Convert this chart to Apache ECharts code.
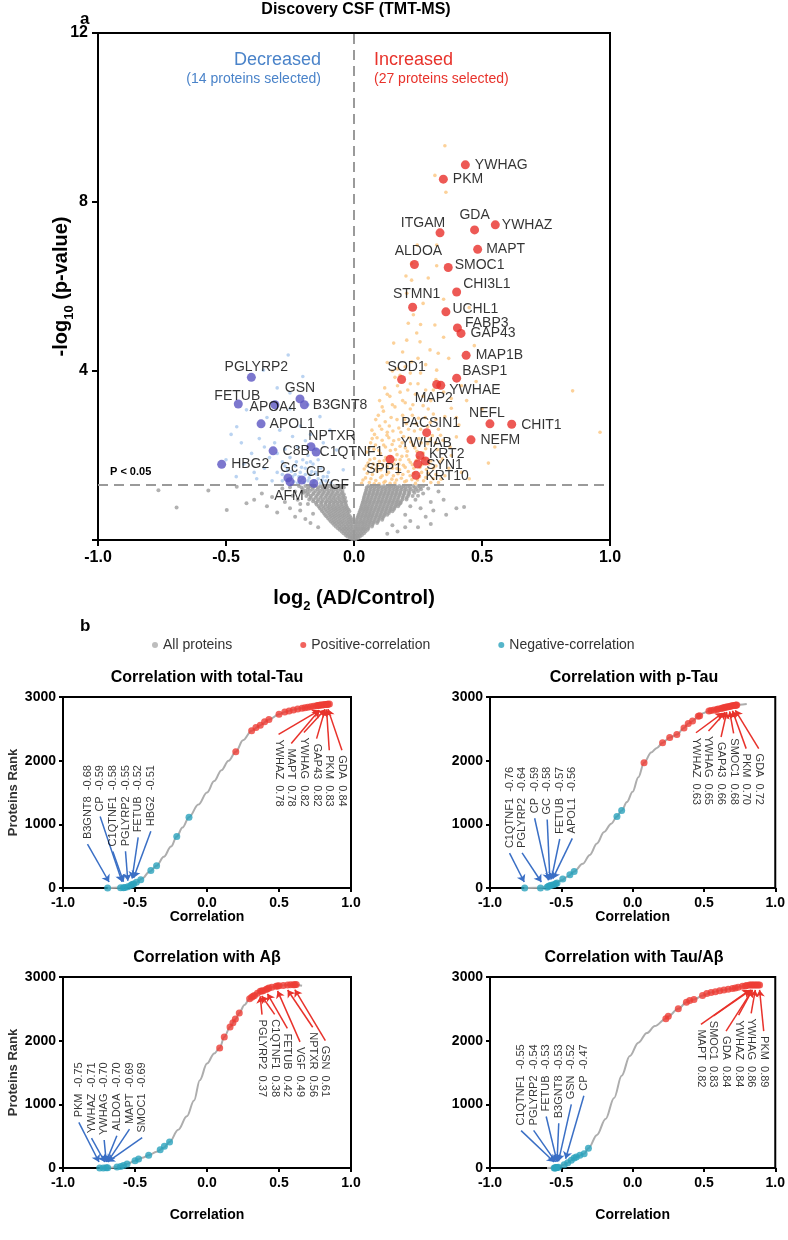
<!DOCTYPE html>
<html><head><meta charset="utf-8">
<script src="https://cdn.jsdelivr.net/npm/echarts@6/dist/echarts.min.js"></script>
<style>html,body{margin:0;padding:0;background:#fff}#c{width:788px;height:1240px}</style>
</head><body><div id="c"></div>
<script>
// ================= DATA: panel a (volcano) =================
const upNames = ['YWHAG','PKM','ITGAM','GDA','YWHAZ','MAPT','ALDOA','SMOC1','CHI3L1','STMN1','UCHL1','FABP3','GAP43','MAP1B','BASP1','SOD1','YWHAE','MAP2','NEFL','CHIT1','PACSIN1','NEFM','YWHAB','KRT2','SYN1','KRT10','SPP1'];
const upX = [0.435,0.349,0.336,0.471,0.552,0.483,0.236,0.368,0.401,0.229,0.359,0.404,0.418,0.438,0.401,0.186,0.339,0.323,0.531,0.616,0.284,0.457,0.258,0.279,0.249,0.242,0.141];
const upY = [8.88,8.54,7.27,7.34,7.46,6.88,6.52,6.45,5.87,5.51,5.40,5.02,4.89,4.37,3.83,3.80,3.66,3.68,2.75,2.74,2.54,2.37,2.00,1.87,1.80,1.53,1.91];
const downNames = ['PGLYRP2','FETUB','APOA4','GSN','B3GNT8','APOL1','NPTXR','C8B','C1QTNF1','HBG2','Gc','AFM','CP','VGF'];
const downX = [-0.401,-0.452,-0.309,-0.211,-0.194,-0.363,-0.168,-0.316,-0.148,-0.517,-0.258,-0.250,-0.204,-0.157];
const downY = [3.85,3.22,3.20,3.34,3.20,2.75,2.21,2.11,2.08,1.79,1.47,1.38,1.42,1.34];

// non-significant proteins (grey), rows: [-log10 p, [log2 FC ...]]
const grayRows = [
 [1.28,[-0.215,-0.19,-0.17,-0.152,-0.131,-0.114,-0.097,-0.079,-0.062,-0.046,0.056,0.071,0.087,0.101,0.117,0.133,0.146,0.162,0.177,0.193,0.211,0.232,0.251,0.27]],
 [1.24,[-0.205,-0.178,-0.16,-0.14,-0.122,-0.105,-0.088,-0.07,-0.054,-0.04,0.05,0.064,0.079,0.094,0.109,0.124,0.139,0.154,0.169,0.185,0.2,0.218,0.238,0.258]],
 [1.2,[-0.2,-0.181,-0.163,-0.142,-0.124,-0.106,-0.088,-0.071,-0.052,0.049,0.066,0.081,0.096,0.112,0.126,0.141,0.157,0.171,0.187,0.203,0.222,0.243,0.262]],
 [1.16,[-0.19,-0.172,-0.15,-0.132,-0.115,-0.097,-0.08,-0.062,-0.045,0.047,0.062,0.077,0.092,0.107,0.122,0.137,0.152,0.167,0.182,0.198,0.214,0.232,0.25]],
 [1.12,[-0.196,-0.183,-0.157,-0.137,-0.119,-0.101,-0.084,-0.066,-0.047,0.045,0.061,0.076,0.091,0.106,0.121,0.136,0.151,0.166,0.181,0.198,0.216,0.236]],
 [1.08,[-0.178,-0.16,-0.141,-0.123,-0.105,-0.088,-0.071,-0.054,-0.04,0.043,0.058,0.073,0.088,0.103,0.118,0.133,0.148,0.163,0.178,0.195,0.213]],
 [1.04,[-0.186,-0.168,-0.146,-0.127,-0.109,-0.092,-0.076,-0.059,-0.042,0.041,0.056,0.071,0.086,0.101,0.116,0.131,0.146,0.161,0.176,0.192,0.211,0.229]],
 [1.0,[-0.17,-0.15,-0.131,-0.113,-0.096,-0.08,-0.063,-0.047,-0.035,0.039,0.054,0.068,0.083,0.098,0.113,0.128,0.143,0.158,0.173,0.19,0.206]],
 [0.96,[-0.175,-0.158,-0.139,-0.121,-0.102,-0.086,-0.071,-0.055,-0.039,0.038,0.052,0.066,0.081,0.096,0.111,0.126,0.141,0.156,0.171,0.189,0.205]],
 [0.92,[-0.16,-0.142,-0.125,-0.107,-0.09,-0.074,-0.058,-0.043,-0.032,0.036,0.05,0.064,0.079,0.094,0.108,0.123,0.138,0.153,0.168,0.183]],
 [0.88,[-0.149,-0.129,-0.112,-0.096,-0.081,-0.066,-0.05,-0.035,0.034,0.047,0.061,0.076,0.091,0.106,0.121,0.136,0.151,0.166,0.182]],
 [0.84,[-0.146,-0.128,-0.111,-0.095,-0.079,-0.063,-0.048,-0.032,0.032,0.045,0.059,0.073,0.088,0.103,0.118,0.133,0.148,0.163,0.176]],
 [0.8,[-0.138,-0.121,-0.104,-0.089,-0.074,-0.059,-0.044,-0.03,0.03,0.044,0.057,0.071,0.086,0.101,0.116,0.131,0.146,0.161,0.172]],
 [0.76,[-0.134,-0.117,-0.1,-0.085,-0.07,-0.055,-0.04,-0.027,0.028,0.041,0.054,0.068,0.083,0.098,0.113,0.128,0.143,0.158]],
 [0.72,[-0.128,-0.111,-0.095,-0.08,-0.066,-0.051,-0.036,-0.022,0.026,0.039,0.052,0.066,0.081,0.096,0.111,0.126,0.141,0.155]],
 [0.68,[-0.124,-0.106,-0.09,-0.075,-0.061,-0.046,-0.031,-0.018,0.023,0.037,0.05,0.064,0.078,0.093,0.108,0.123,0.138,0.15]],
 [0.64,[-0.118,-0.101,-0.086,-0.071,-0.056,-0.041,-0.026,0.021,0.035,0.049,0.062,0.076,0.091,0.106,0.121,0.136]],
 [0.6,[-0.113,-0.096,-0.081,-0.066,-0.051,-0.036,-0.021,0.018,0.032,0.046,0.06,0.073,0.088,0.103,0.118,0.13]],
 [0.56,[-0.108,-0.091,-0.076,-0.061,-0.046,-0.031,-0.016,0.016,0.03,0.044,0.057,0.071,0.086,0.101,0.116]],
 [0.52,[-0.102,-0.086,-0.071,-0.056,-0.041,-0.026,-0.012,0.013,0.027,0.041,0.055,0.068,0.083,0.098,0.112]],
 [0.48,[-0.096,-0.081,-0.066,-0.051,-0.036,-0.021,-0.009,0.011,0.025,0.039,0.052,0.066,0.081,0.096,0.11]],
 [0.44,[-0.09,-0.075,-0.06,-0.046,-0.031,-0.017,-0.006,0.01,0.023,0.036,0.05,0.063,0.078,0.093]],
 [0.4,[-0.084,-0.07,-0.055,-0.041,-0.026,-0.012,0.009,0.021,0.034,0.047,0.061,0.075,0.09]],
 [0.36,[-0.078,-0.063,-0.049,-0.035,-0.021,-0.008,0.007,0.02,0.033,0.045,0.058,0.072]],
 [0.32,[-0.071,-0.056,-0.042,-0.029,-0.016,-0.005,0.006,0.018,0.031,0.043,0.056,0.07]],
 [0.28,[-0.063,-0.05,-0.037,-0.024,-0.011,0.005,0.017,0.03,0.042,0.055]],
 [0.24,[-0.056,-0.043,-0.031,-0.019,-0.007,0.006,0.017,0.029,0.041,0.053]],
 [0.2,[-0.048,-0.036,-0.024,-0.012,-0.002,0.01,0.022,0.034,0.045]],
 [0.16,[-0.041,-0.029,-0.017,-0.006,0.005,0.016,0.027,0.039]],
 [0.12,[-0.033,-0.022,-0.011,0.0,0.011,0.021,0.031]],
 [0.08,[-0.026,-0.015,-0.005,0.004,0.013,0.023]],
 [0.05,[-0.016,-0.006,0.006,0.016]],
 [0.02,[-0.007,0.006]]
];
const grayScatter = [[-0.764,1.18],[-0.693,0.77],[-0.569,1.17],[-0.497,0.71],[-0.458,1.26],[-0.42,0.87],[-0.39,0.95],[-0.36,1.1],[-0.34,0.8],[-0.32,1.02],[-0.3,0.65],[-0.28,1.22],[-0.27,0.9],[-0.25,0.75],[-0.24,1.05],[-0.23,0.55],[-0.22,0.95],[-0.21,0.7],[-0.2,1.15],[-0.19,0.5],[-0.18,0.85],[-0.17,0.4],[-0.16,0.62],[-0.14,0.3],[-0.25,1.25],[-0.23,1.15],[-0.21,0.85],
 [0.18,0.87],[0.2,0.6],[0.22,0.45],[0.24,0.95],[0.26,0.75],[0.27,1.1],[0.28,0.55],[0.3,0.9],[0.31,0.7],[0.33,1.15],[0.35,0.95],[0.36,0.6],[0.4,0.75],[0.43,0.78],[0.3,0.38],[0.25,0.3],[0.2,0.3],[0.17,0.2],[0.13,0.15],[0.15,0.35],[0.29,1.22],[0.25,1.05],[0.22,0.8]];
// significantly increased, not selected (orange)
const orangePts = [
 [0.03,1.34],[0.045,1.47],[0.06,1.36],[0.072,1.55],[0.085,1.41],[0.098,1.33],[0.11,1.52],[0.122,1.39],[0.135,1.6],[0.148,1.44],[0.16,1.35],[0.172,1.57],[0.185,1.46],[0.198,1.38],[0.212,1.62],[0.226,1.43],[0.24,1.34],[0.256,1.5],[0.272,1.4],[0.29,1.58],[0.31,1.45],[0.33,1.36],[0.355,1.52],
 [0.035,1.42],[0.052,1.58],[0.066,1.45],[0.079,1.33],[0.091,1.62],[0.104,1.48],[0.117,1.36],[0.128,1.55],[0.141,1.34],[0.154,1.52],[0.166,1.42],[0.178,1.66],[0.191,1.55],[0.205,1.4],[0.219,1.52],[0.233,1.58],[0.248,1.42],[0.264,1.6],[0.28,1.48],[0.3,1.36],[0.32,1.55],[0.34,1.44],
 [0.04,1.68],[0.055,1.82],[0.068,1.71],[0.08,1.93],[0.092,1.76],[0.105,1.66],[0.118,1.88],[0.13,1.73],[0.143,1.97],[0.156,1.8],[0.168,1.69],[0.18,1.9],[0.193,1.77],[0.206,1.99],[0.22,1.84],[0.234,1.7],[0.25,1.95],[0.266,1.78],[0.283,1.67],[0.3,1.87],[0.32,1.75],[0.345,1.92],[0.37,1.7],
 [0.048,1.75],[0.062,1.9],[0.075,1.8],[0.087,1.68],[0.099,1.86],[0.112,1.78],[0.124,1.95],[0.137,1.82],[0.15,1.7],[0.162,1.9],[0.175,1.8],[0.187,1.98],[0.2,1.72],[0.214,1.9],[0.228,1.78],[0.243,1.88],[0.258,1.72],[0.275,1.92],[0.292,1.8],[0.31,1.7],[0.335,1.85],
 [0.05,2.08],[0.065,2.3],[0.078,2.15],[0.09,2.42],[0.103,2.05],[0.116,2.25],[0.129,2.48],[0.142,2.12],[0.155,2.35],[0.168,2.02],[0.18,2.22],[0.194,2.45],[0.208,2.1],[0.222,2.32],[0.238,2.18],[0.254,2.4],[0.27,2.06],[0.288,2.28],[0.306,2.47],[0.326,2.14],[0.348,2.36],[0.375,2.2],[0.4,2.44],
 [0.058,2.18],[0.071,2.4],[0.084,2.25],[0.097,2.12],[0.11,2.36],[0.123,2.2],[0.136,2.42],[0.149,2.26],[0.162,2.14],[0.175,2.38],[0.188,2.3],[0.201,2.18],[0.215,2.42],[0.23,2.25],[0.246,2.1],[0.262,2.3],[0.28,2.16],[0.298,2.38],[0.318,2.3],[0.338,2.48],
 [0.07,2.6],[0.085,2.85],[0.1,2.7],[0.115,3.05],[0.13,2.55],[0.145,2.9],[0.16,3.15],[0.175,2.65],[0.19,2.95],[0.205,2.75],[0.22,3.1],[0.236,2.58],[0.252,2.88],[0.27,3.18],[0.288,2.68],[0.31,2.98],[0.33,2.62],[0.355,2.92],[0.38,3.12],[0.41,2.72],
 [0.08,2.5],[0.095,2.95],[0.108,2.62],[0.122,2.8],[0.138,2.7],[0.152,2.58],[0.168,2.85],[0.183,2.55],[0.198,2.85],[0.213,2.62],[0.228,2.95],[0.244,2.75],[0.26,2.62],[0.278,2.9],[0.298,2.78],[0.32,2.85],
 [0.1,3.3],[0.12,3.6],[0.14,3.4],[0.16,3.85],[0.18,3.5],[0.2,3.25],[0.22,3.7],[0.24,3.45],[0.26,3.95],[0.28,3.55],[0.3,3.3],[0.32,3.8],[0.35,3.5],[0.38,3.35],[0.42,3.65],
 [0.11,3.15],[0.13,3.45],[0.15,3.2],[0.17,3.65],[0.19,3.3],[0.21,3.55],[0.23,3.2],[0.25,3.7],[0.27,3.4],[0.29,3.1],[0.31,3.55],[0.15,4.0],[0.2,4.1],[0.25,4.3],[0.18,3.9],[0.22,3.95],
 [0.13,4.2],[0.155,4.66],[0.17,4.05],[0.19,4.45],[0.206,4.73],[0.225,4.22],[0.245,4.9],[0.258,4.69],[0.28,4.15],[0.297,4.5],[0.329,4.42],[0.323,4.02],[0.35,4.8],[0.37,4.3],
 [0.212,5.13],[0.232,5.33],[0.316,5.09],[0.206,5.84],[0.225,6.15],[0.203,6.25],[0.225,6.55],[0.323,6.49],[0.247,6.98],[0.323,6.98],[0.27,5.6],[0.29,6.2],[0.35,5.7],[0.26,5.1],
 [0.961,2.55],[0.854,3.53],[0.525,1.82],[0.477,3.75],[0.355,9.33],[0.316,8.63],[0.359,8.23],[0.55,2.2],[0.5,3.1],[0.45,5.5],[0.47,4.6],[0.42,1.6],[0.45,1.45],[0.38,2.0],[0.4,2.9],[0.44,3.3]];
// significantly decreased, not selected (light blue)
const bluePts = [[-0.46,1.5],[-0.43,1.8],[-0.4,2.05],[-0.38,1.45],[-0.37,2.4],[-0.35,1.7],[-0.34,2.9],[-0.33,1.95],[-0.32,1.4],[-0.31,2.3],[-0.3,1.6],[-0.29,2.6],[-0.28,1.85],[-0.28,1.4],[-0.27,2.15],[-0.26,1.65],[-0.25,3.1],[-0.25,1.95],[-0.24,2.45],[-0.24,1.5],[-0.23,1.75],[-0.22,2.2],[-0.22,1.35],[-0.21,1.6],[-0.21,2.7],[-0.2,1.9],[-0.2,1.45],[-0.19,2.35],[-0.19,1.7],[-0.18,1.4],[-0.18,2.0],[-0.17,1.55],[-0.17,2.5],[-0.16,1.8],[-0.16,1.35],[-0.15,2.15],[-0.15,1.6],[-0.14,1.45],[-0.14,1.9],[-0.13,1.35],[-0.13,1.7],[-0.12,2.3],[-0.12,1.5],[-0.11,1.4],[-0.1,1.6],[-0.09,1.35],
 [-0.257,4.38],[-0.354,4.02],[-0.2,3.87],[-0.25,3.48],[-0.42,3.08],[-0.458,2.68],[-0.133,2.92],[-0.094,2.6],[-0.068,2.13],[-0.042,1.66],[-0.3,3.6],[-0.18,3.2],[-0.28,1.55],[-0.26,1.42],[-0.23,1.55],[-0.21,1.4],[-0.19,1.55],[-0.27,1.75],[-0.17,1.85],[-0.155,1.4],
 [-0.235,1.38],[-0.215,1.5],[-0.195,1.36],[-0.175,1.47],[-0.165,1.62],[-0.145,1.55],[-0.125,1.42],[-0.105,1.5],[-0.245,1.62],[-0.225,1.85],[-0.205,1.72],[-0.185,1.83],[-0.3,2.05],[-0.35,2.2],[-0.39,1.6],[-0.44,2.3],[-0.5,1.9],[-0.48,2.5]];

// ================= DATA: panel b (rank plots) =================
const panelTitles = ['Correlation with total-Tau','Correlation with p-Tau','Correlation with A\u03b2','Correlation with Tau/A\u03b2'];

const tTauCurve = [[-0.69,0],[-0.6,8],[-0.55,30],[-0.5,75],[-0.45,150],[-0.4,255],[-0.35,350],[-0.3,490],[-0.25,650],[-0.21,809],[-0.17,950],[-0.125,1111],[-0.06,1310],[0,1500],[0.05,1680],[0.1,1850],[0.15,2000],[0.2,2139],[0.25,2320],[0.31,2468],[0.37,2557],[0.43,2645],[0.5,2728],[0.55,2770],[0.6,2800],[0.65,2822],[0.7,2843],[0.75,2860],[0.8,2875],[0.85,2890]];
const tTauPos = [[0.2,2139],[0.31,2468],[0.34,2520],[0.37,2557],[0.4,2610],[0.43,2645],[0.5,2728],[0.54,2765],[0.57,2780],[0.6,2795],[0.63,2810],[0.66,2822],[0.68,2830],[0.7,2840],[0.72,2848],[0.74,2855],[0.76,2862],[0.77,2866],[0.78,2870],[0.79,2873],[0.8,2876],[0.81,2878],[0.82,2881],[0.83,2884],[0.835,2886],[0.84,2888],[0.85,2890]];
const tTauNeg = [[-0.69,0],[-0.6,2],[-0.58,5],[-0.57,8],[-0.55,20],[-0.53,40],[-0.52,55],[-0.51,63],[-0.49,89],[-0.46,130],[-0.39,276],[-0.35,350],[-0.21,809],[-0.125,1111]];
const tTauNegNames = ['B3GNT8','CP','C1QTNF1','PGLYRP2','FETUB','HBG2'];
const tTauNegR = [-0.68,-0.59,-0.58,-0.55,-0.52,-0.51];
const tTauPosNames = ['YWHAZ','MAPT','YWHAG','GAP43','PKM','GDA'];
const tTauPosR = [0.78,0.78,0.82,0.82,0.83,0.84];

const pTauCurve = [[-0.76,0],[-0.65,3],[-0.6,20],[-0.55,60],[-0.5,120],[-0.45,190],[-0.41,261],[-0.35,380],[-0.3,520],[-0.25,700],[-0.2,880],[-0.15,1010],[-0.11,1122],[-0.077,1216],[-0.04,1350],[0,1510],[0.04,1740],[0.08,1967],[0.13,2130],[0.17,2200],[0.21,2280],[0.26,2363],[0.31,2410],[0.36,2515],[0.39,2583],[0.42,2624],[0.46,2697],[0.5,2750],[0.535,2780],[0.6,2820],[0.65,2845],[0.7,2866],[0.75,2880],[0.8,2890]];
const pTauPos = [[0.08,1967],[0.21,2280],[0.26,2363],[0.31,2410],[0.36,2515],[0.39,2583],[0.42,2624],[0.46,2697],[0.47,2705],[0.535,2780],[0.55,2788],[0.57,2795],[0.59,2805],[0.6,2812],[0.62,2820],[0.63,2826],[0.64,2832],[0.65,2838],[0.66,2843],[0.67,2848],[0.68,2852],[0.69,2858],[0.7,2862],[0.71,2866],[0.72,2870],[0.725,2872],[0.73,2875]];
const pTauNeg = [[-0.757,0],[-0.646,0],[-0.6,10],[-0.59,26],[-0.58,35],[-0.57,42],[-0.555,52],[-0.54,68],[-0.53,80],[-0.49,141],[-0.44,209],[-0.41,261],[-0.11,1122],[-0.077,1216]];
const pTauNegNames = ['C1QTNF1','PGLYRP2','CP','GC','FETUB','APOL1'];
const pTauNegR = [-0.76,-0.64,-0.59,-0.58,-0.57,-0.56];
const pTauPosNames = ['YWHAZ','YWHAG','GAP43','SMOC1','PKM','GDA'];
const pTauPosR = [0.63,0.65,0.66,0.68,0.70,0.72];

const abCurve = [[-0.745,0],[-0.7,2],[-0.65,8],[-0.6,30],[-0.555,63],[-0.5,115],[-0.45,160],[-0.405,199],[-0.35,255],[-0.3,320],[-0.26,408],[-0.2,600],[-0.14,811],[-0.09,1060],[-0.05,1380],[0,1640],[0.05,1800],[0.088,1885],[0.12,2058],[0.16,2215],[0.2,2340],[0.224,2435],[0.26,2560],[0.296,2660],[0.32,2696],[0.37,2775],[0.43,2827],[0.5,2864],[0.56,2874],[0.61,2880],[0.66,2862]];
const abPos = [[0.088,1885],[0.12,2058],[0.16,2215],[0.18,2280],[0.197,2340],[0.224,2435],[0.296,2660],[0.31,2680],[0.32,2696],[0.33,2710],[0.35,2745],[0.37,2775],[0.38,2780],[0.39,2785],[0.41,2805],[0.42,2815],[0.43,2827],[0.45,2840],[0.48,2855],[0.49,2860],[0.5,2864],[0.53,2868],[0.56,2874],[0.58,2877],[0.6,2879],[0.61,2880],[0.62,2881]];
const abNeg = [[-0.745,0],[-0.72,0],[-0.7,2],[-0.69,3],[-0.625,15],[-0.6,25],[-0.58,40],[-0.555,63],[-0.5,115],[-0.475,141],[-0.405,199],[-0.325,288],[-0.296,340],[-0.26,408]];
const abNegNames = ['PKM','YWHAZ','YWHAG','ALDOA','MAPT','SMOC1'];
const abNegR = [-0.75,-0.71,-0.70,-0.70,-0.69,-0.69];
const abPosNames = ['PGLYRP2','C1QTNF1','FETUB','VGF','NPTXR','GSN'];
const abPosR = [0.37,0.38,0.42,0.49,0.56,0.61];

const taCurve = [[-0.6,0],[-0.55,5],[-0.53,15],[-0.48,52],[-0.455,83],[-0.43,120],[-0.41,156],[-0.395,172],[-0.34,224],[-0.31,312],[-0.25,520],[-0.19,770],[-0.13,1100],[-0.077,1448],[-0.02,1760],[0.04,1969],[0.1,2120],[0.156,2229],[0.233,2344],[0.25,2385],[0.32,2500],[0.377,2604],[0.43,2646],[0.49,2708],[0.55,2755],[0.62,2792],[0.7,2818],[0.77,2854],[0.82,2873],[0.89,2876]];
const taPos = [[0.233,2344],[0.25,2385],[0.32,2500],[0.377,2604],[0.4,2630],[0.43,2646],[0.49,2708],[0.52,2740],[0.55,2755],[0.58,2770],[0.61,2785],[0.64,2795],[0.67,2808],[0.7,2818],[0.72,2828],[0.74,2840],[0.77,2854],[0.79,2860],[0.8,2865],[0.82,2873],[0.83,2876],[0.84,2876],[0.85,2876],[0.86,2876],[0.87,2876],[0.88,2876],[0.89,2876]];
const taNeg = [[-0.55,0],[-0.545,0],[-0.54,2],[-0.535,4],[-0.53,6],[-0.52,10],[-0.48,52],[-0.455,83],[-0.43,120],[-0.41,156],[-0.395,172],[-0.37,200],[-0.34,224],[-0.31,312]];
const taNegNames = ['C1QTNF1','PGLYRP2','FETUB','B3GNT8','GSN','CP'];
const taNegR = [-0.55,-0.54,-0.53,-0.53,-0.52,-0.47];
const taPosNames = ['MAPT','SMOC1','GDA','YWHAZ','YWHAG','PKM'];
const taPosR = [0.82,0.83,0.84,0.84,0.86,0.89];

// ================= LAYOUT =================
const FONT = '"Liberation Sans", Arial, Helvetica, sans-serif';
const grids = [
  {left:98, top:33, width:512, height:507},
  {left:63, top:697, width:288, height:191},
  {left:490, top:697, width:288, height:191},
  {left:63, top:977, width:288, height:191},
  {left:490, top:977, width:288, height:191}
];
// label placement: r = right of dot [gap, dy]; c = centred offset [dx, dy]
const upLay = {YWHAG:['r',5,0],PKM:['r',5,0],ITGAM:['c',-17,-10],GDA:['c',0,-15],YWHAZ:['r',2,0],MAPT:['r',4,0],ALDOA:['c',4,-13],SMOC1:['r',2,-2],CHI3L1:['r',2,-8],STMN1:['c',4,-13],UCHL1:['r',2,-3],FABP3:['r',3,-5],GAP43:['r',5,0],MAP1B:['r',5,0],BASP1:['r',1,-7],SOD1:['c',5,-12],YWHAE:['r',4,5],MAP2:['c',-3,14],NEFL:['c',-3,-11],CHIT1:['r',5,1],PACSIN1:['c',4,-10],NEFM:['r',5,0],YWHAB:['c',6,-12],KRT2:['r',-1,-7],SYN1:['r',4,1],KRT10:['r',5,1],SPP1:['c',-6,10]};
const downLay = {PGLYRP2:['c',5,-10],FETUB:['c',-1,-8],APOA4:['c',-2,2],GSN:['c',0,-11],B3GNT8:['r',4,0],APOL1:['r',4,0],NPTXR:['c',21,-10],C8B:['r',5,0],C1QTNF1:['r',-1,0],HBG2:['r',5,0],Gc:['c',1,-10],AFM:['c',-1,14],CP:['c',14,-8],VGF:['r',2,2]};
const panelLay = [
  {negX0:-0.83, posX0:0.497, negTop:1930, posBottom:1278},
  {negX0:-0.863, posX0:0.444, negTop:1904, posBottom:1304},
  {negX0:-0.89, posX0:0.382, negTop:1660, posBottom:1115},
  {negX0:-0.782, posX0:0.479, negTop:1943, posBottom:1265}
];
const colStep = 0.088;

const panels = [
  {curve:tTauCurve,pos:tTauPos,neg:tTauNeg,negNames:tTauNegNames,negR:tTauNegR,posNames:tTauPosNames,posR:tTauPosR},
  {curve:pTauCurve,pos:pTauPos,neg:pTauNeg,negNames:pTauNegNames,negR:pTauNegR,posNames:pTauPosNames,posR:pTauPosR},
  {curve:abCurve,pos:abPos,neg:abNeg,negNames:abNegNames,negR:abNegR,posNames:abPosNames,posR:abPosR},
  {curve:taCurve,pos:taPos,neg:taNeg,negNames:taNegNames,negR:taNegR,posNames:taPosNames,posR:taPosR}
];

const ctx = document.createElement('canvas').getContext('2d');
const LABEL_FS = 11;
ctx.font = LABEL_FS + 'px ' + FONT;
const tw = s => ctx.measureText(s).width;
const nearest = (arr, x) => arr.reduce((b, p) => Math.abs(p[0]-x) < Math.abs(b[0]-x) ? p : b, arr[0]);
const flatRows = rows => rows.flatMap(r => r[1].map(x => [x, r[0]]));

function volItems(names, xs, ys, lay) {
  return names.map((n, i) => {
    const L = lay[n];
    const label = L[0] === 'r' ? {position:'right', distance:L[1], offset:[0, L[2]]} : {position:'inside', offset:[L[1], L[2]]};
    return {name:n, value:[xs[i], ys[i]], label};
  });
}

const series = [];
// volcano
series.push({type:'line', xAxisIndex:0, yAxisIndex:0, data:[], silent:true, z:1,
  markLine:{silent:true, symbol:'none', label:{show:false}, animation:false,
    lineStyle:{type:[10,6], color:'#9a9a9a', width:2},
    data:[{xAxis:0},{yAxis:-Math.log10(0.05)}]}});
series.push({type:'scatter', xAxisIndex:0, yAxisIndex:0, data:flatRows(grayRows).concat(grayScatter), symbolSize:4, itemStyle:{color:'#9d9d9d'}, silent:true, z:2});
series.push({type:'scatter', xAxisIndex:0, yAxisIndex:0, data:orangePts, symbolSize:3.6, itemStyle:{color:'#fbc67f'}, silent:true, z:2});
series.push({type:'scatter', xAxisIndex:0, yAxisIndex:0, data:bluePts, symbolSize:3.6, itemStyle:{color:'#a9c8ee'}, silent:true, z:2});
const volLabel = {show:true, formatter:'{b}', fontSize:14, color:'#000', fontFamily:FONT};
series.push({type:'scatter', xAxisIndex:0, yAxisIndex:0, data:volItems(upNames, upX, upY, upLay), symbolSize:9, itemStyle:{color:'#e8302a'}, label:volLabel, silent:true, z:5});
series.push({type:'scatter', xAxisIndex:0, yAxisIndex:0, data:volItems(downNames, downX, downY, downLay), symbolSize:9, itemStyle:{color:'#5b55c2'}, label:volLabel, silent:true, z:5});

// rank panels
panels.forEach((P, k) => {
  const gi = k + 1, L = panelLay[k];
  const rpp = 3000 / grids[gi].height;
  const ax = {xAxisIndex:gi, yAxisIndex:gi};
  series.push(Object.assign({type:'line', name:'All proteins', data:P.curve, smooth:0.35, smoothMonotone:'x', showSymbol:false,
    lineStyle:{color:'#adadad', width:2}, itemStyle:{color:'#bdbdbd'}, silent:true, z:2}, ax));
  series.push(Object.assign({type:'scatter', name:'Positive-correlation', data:P.pos, symbolSize:7, itemStyle:{color:'#ee3c35'}, silent:true, z:3}, ax));
  series.push(Object.assign({type:'scatter', name:'Negative-correlation', data:P.neg, symbolSize:7, itemStyle:{color:'#2ba2bd'}, silent:true, z:3}, ax));
  const negLab = [], negArr = [], posLab = [], posArr = [];
  P.negNames.forEach((n, i) => {
    const text = n + '  ' + P.negR[i].toFixed(2);
    const x = L.negX0 + i * colStep;
    negLab.push({name:text, value:[x, L.negTop]});
    const d = nearest(P.neg, P.negR[i]);
    negArr.push({coords:[[x, L.negTop - (tw(text) + 5) * rpp], [P.negR[i], d[1] + 6 * rpp]]});
  });
  P.posNames.forEach((n, i) => {
    const text = n + '  ' + P.posR[i].toFixed(2);
    const x = L.posX0 + i * colStep;
    posLab.push({name:text, value:[x, L.posBottom]});
    const d = nearest(P.pos, P.posR[i]);
    posArr.push({coords:[[x, L.posBottom + (tw(text) + 5) * rpp], [P.posR[i], d[1] - 5 * rpp]]});
  });
  const labBase = {show:true, formatter:'{b}', position:'inside', align:'right', verticalAlign:'middle', fontSize:LABEL_FS, color:'#000', fontFamily:FONT};
  series.push(Object.assign({type:'scatter', data:negLab, symbolSize:1, itemStyle:{color:'rgba(0,0,0,0)'}, silent:true, z:4,
    label:Object.assign({rotate:90}, labBase)}, ax));
  series.push(Object.assign({type:'scatter', data:posLab, symbolSize:1, itemStyle:{color:'rgba(0,0,0,0)'}, silent:true, z:4,
    label:Object.assign({rotate:-90}, labBase)}, ax));
  series.push(Object.assign({type:'lines', coordinateSystem:'cartesian2d', data:negArr, symbol:['none','arrow'], symbolSize:7,
    lineStyle:{color:'#3a6fc5', width:1.5, opacity:1, curveness:0}, silent:true, z:3}, ax));
  series.push(Object.assign({type:'lines', coordinateSystem:'cartesian2d', data:posArr, symbol:['none','arrow'], symbolSize:7,
    lineStyle:{color:'#e8322b', width:1.5, opacity:1, curveness:0}, silent:true, z:3}, ax));
});

// axes
const blk = {color:'#000', width:2};
const xAxes = [], yAxes = [];
xAxes.push({gridIndex:0, type:'value', min:-1, max:1, interval:0.5,
  axisLine:{onZero:false, lineStyle:blk}, axisTick:{length:6, lineStyle:blk}, splitLine:{show:false},
  axisLabel:{formatter:v => v.toFixed(1), fontSize:16, fontWeight:'bold', color:'#000', fontFamily:FONT, margin:10},
  name:'{a|log}{s|2}{a| (AD/Control)}', nameLocation:'middle', nameGap:43, nameMoveOverlap:false,
  nameTextStyle:{rich:{a:{fontSize:20, fontWeight:'bold', color:'#000', fontFamily:FONT, lineHeight:30, verticalAlign:'middle'},
    s:{fontSize:13, fontWeight:'bold', color:'#000', fontFamily:FONT, lineHeight:30, verticalAlign:'bottom'}}}});
yAxes.push({gridIndex:0, type:'value', min:0, max:12, interval:4,
  axisLine:{onZero:false, lineStyle:blk}, axisTick:{length:6, lineStyle:blk}, splitLine:{show:false},
  axisLabel:{formatter:v => v === 0 ? '' : String(v), fontSize:16, fontWeight:'bold', color:'#000', fontFamily:FONT, margin:10},
  name:'{a|-log}{s|10}{a| (p-value)}', nameLocation:'middle', nameGap:22, nameRotate:90, nameMoveOverlap:false,
  nameTextStyle:{rich:{a:{fontSize:20, fontWeight:'bold', color:'#000', fontFamily:FONT, lineHeight:30, verticalAlign:'middle'},
    s:{fontSize:13, fontWeight:'bold', color:'#000', fontFamily:FONT, lineHeight:30, verticalAlign:'bottom'}}}});
for (let gi = 1; gi <= 4; gi++) {
  xAxes.push({gridIndex:gi, type:'value', min:-1, max:1, interval:0.5,
    axisLine:{onZero:false, lineStyle:blk}, axisTick:{length:4, lineStyle:blk}, splitLine:{show:false},
    axisLabel:{formatter:v => v.toFixed(1), fontSize:14, fontWeight:'bold', color:'#000', fontFamily:FONT, margin:8},
    name:'Correlation', nameLocation:'middle', nameGap: gi <= 2 ? 22 : 40, nameMoveOverlap:false,
    nameTextStyle:{fontSize:14, fontWeight:'bold', color:'#000', fontFamily:FONT}});
  yAxes.push({gridIndex:gi, type:'value', min:0, max:3000, interval:1000,
    axisLine:{onZero:false, lineStyle:blk}, axisTick:{length:4, lineStyle:blk}, splitLine:{show:false},
    axisLabel:{formatter:v => String(v), fontSize:14, fontWeight:'bold', color:'#000', fontFamily:FONT, margin:7},
    name:(gi === 1 || gi === 3) ? 'Proteins Rank' : '', nameLocation:'middle', nameGap:43, nameMoveOverlap:false,
    nameTextStyle:{fontSize:13, fontWeight:'bold', color:'#333', fontFamily:FONT}});
}

const T = (text, left, top, style, align) => ({text, left, top, padding:0, textAlign:align,
  textStyle:Object.assign({fontFamily:FONT, color:'#000', fontWeight:'bold'}, style)});
const titles = [
  T('Discovery CSF (TMT-MS)', 356, 2, {fontSize:16}, 'center'),
  T('a', 80, 11, {fontSize:17}),
  T('b', 80, 618, {fontSize:17}),
  T('Decreased', 321, 51, {fontSize:18, fontWeight:'normal', color:'#4a83c9'}, 'right'),
  T('(14 proteins selected)', 321, 72, {fontSize:14, fontWeight:'normal', color:'#4a83c9'}, 'right'),
  T('Increased', 374, 51, {fontSize:18, fontWeight:'normal', color:'#e8322b'}),
  T('(27 proteins selected)', 374, 72, {fontSize:14, fontWeight:'normal', color:'#e8322b'}),
  T('P < 0.05', 110, 466, {fontSize:11})
];
panelTitles.forEach((t, k) => {
  const g = grids[k + 1];
  titles.push(T(t, g.left + g.width / 2, g.top - 27, {fontSize:16}, 'center'));
});

const chart = echarts.init(document.getElementById('c'), null, {renderer:'canvas'});
chart.setOption({
  animation:false,
  backgroundColor:'#fff',
  title:titles,
  legend:{data:['All proteins','Positive-correlation','Negative-correlation'], icon:'circle', itemWidth:6, itemHeight:6,
    left:147, top:633, itemGap:68, selectedMode:false, textStyle:{fontSize:14, color:'#333', fontFamily:FONT}},
  grid:grids.map(g => Object.assign({show:true, borderColor:'#000', borderWidth:2, backgroundColor:'transparent'}, g)),
  xAxis:xAxes,
  yAxis:yAxes,
  series:series
});
</script></body></html>
